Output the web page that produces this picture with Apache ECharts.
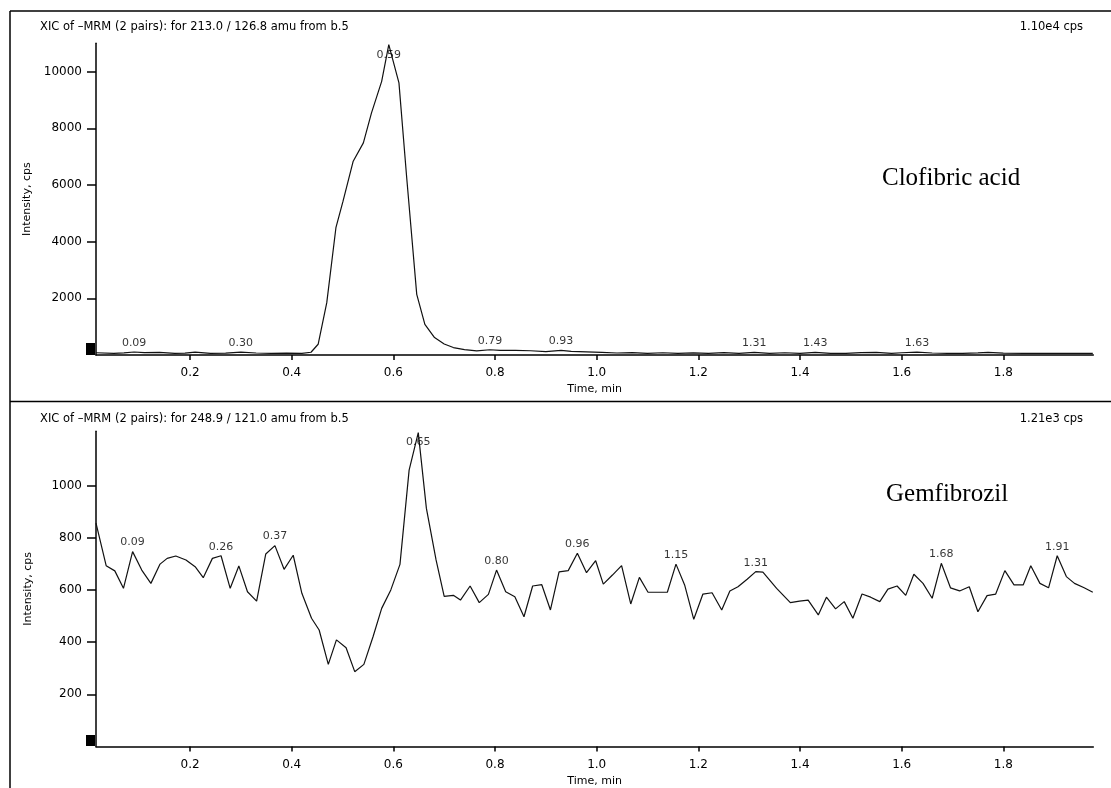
<!DOCTYPE html>
<html>
<head>
<meta charset="utf-8">
<script src="https://cdn.jsdelivr.net/npm/echarts@6/dist/echarts.min.js"></script>
<style>
  html, body { margin: 0; padding: 0; background: #fff; }
  #main { width: 1111px; height: 788px; }
</style>
</head>
<body>
<div id="main"></div>
<script>
// clofibric acid trace, [time min, intensity cps]
var topPoints = [
  [0.015, 80], [0.05, 60], [0.07, 75], [0.09, 105], [0.11, 85], [0.14, 95], [0.17, 60],
  [0.19, 65], [0.21, 100], [0.24, 60], [0.27, 65], [0.30, 100], [0.33, 70], [0.36, 60],
  [0.39, 65], [0.42, 60], [0.438, 97], [0.452, 379], [0.469, 1848], [0.487, 4492],
  [0.501, 5429], [0.521, 6839], [0.541, 7487], [0.557, 8545], [0.577, 9658], [0.591, 10950],
  [0.611, 9602], [0.626, 6310], [0.646, 2141], [0.662, 1084], [0.681, 615], [0.70, 390],
  [0.718, 263], [0.74, 190], [0.764, 143], [0.79, 185], [0.81, 160], [0.84, 165], [0.87, 150],
  [0.90, 120], [0.93, 160], [0.95, 130], [0.98, 110], [1.01, 90], [1.04, 70], [1.07, 85],
  [1.10, 60], [1.13, 80], [1.16, 55], [1.19, 75], [1.22, 60], [1.25, 85], [1.28, 60],
  [1.31, 90], [1.34, 60], [1.37, 80], [1.40, 55], [1.43, 95], [1.46, 60], [1.49, 55],
  [1.52, 85], [1.55, 90], [1.58, 60], [1.60, 80], [1.63, 100], [1.66, 70], [1.69, 55],
  [1.72, 60], [1.75, 75], [1.77, 90], [1.80, 65], [1.84, 55], [1.88, 60], [1.92, 55],
  [1.95, 60], [1.976, 55]
];
var topPeaks = [[0.09, '0.09'], [0.30, '0.30'], [0.591, '0.59'], [0.79, '0.79'],
  [0.93, '0.93'], [1.31, '1.31'], [1.43, '1.43'], [1.63, '1.63']];

// gemfibrozil trace
var bottomPoints = [
  [0.015, 857], [0.035, 694], [0.052, 674], [0.069, 607], [0.087, 748], [0.105, 677],
  [0.123, 626], [0.141, 700], [0.155, 722], [0.172, 731], [0.192, 716], [0.210, 690],
  [0.226, 648], [0.244, 722], [0.261, 732], [0.279, 607], [0.296, 693], [0.313, 594],
  [0.331, 558], [0.349, 739], [0.367, 771], [0.385, 680], [0.403, 734], [0.420, 588],
  [0.439, 492], [0.454, 447], [0.472, 315], [0.488, 409], [0.507, 379], [0.524, 287],
  [0.542, 315], [0.560, 421], [0.577, 530], [0.595, 601], [0.613, 699], [0.631, 1061],
  [0.649, 1205], [0.665, 914], [0.684, 716], [0.700, 576], [0.718, 580], [0.732, 562],
  [0.751, 616], [0.769, 552], [0.787, 584], [0.803, 677], [0.821, 594], [0.839, 575],
  [0.857, 498], [0.874, 616], [0.892, 621], [0.909, 524], [0.926, 670], [0.944, 675],
  [0.962, 742], [0.980, 667], [0.998, 713], [1.013, 623], [1.031, 658], [1.049, 694],
  [1.067, 547], [1.084, 649], [1.101, 592], [1.119, 592], [1.139, 592], [1.156, 700],
  [1.173, 620], [1.191, 488], [1.209, 585], [1.227, 590], [1.246, 524], [1.262, 597],
  [1.278, 613], [1.296, 642], [1.313, 671], [1.327, 669], [1.354, 607], [1.381, 552],
  [1.399, 558], [1.416, 562], [1.436, 505], [1.452, 573], [1.470, 528], [1.487, 556],
  [1.504, 492], [1.522, 585], [1.539, 573], [1.557, 556], [1.573, 604], [1.591, 616],
  [1.608, 580], [1.624, 661], [1.642, 626], [1.660, 569], [1.678, 703], [1.696, 609],
  [1.714, 597], [1.733, 613], [1.750, 517], [1.768, 579], [1.785, 585], [1.803, 675],
  [1.821, 620], [1.839, 620], [1.854, 694], [1.872, 626], [1.889, 609], [1.906, 732],
  [1.924, 652], [1.940, 626], [1.959, 609], [1.976, 592]
];
var bottomPeaks = [[0.087, '0.09'], [0.261, '0.26'], [0.367, '0.37'], [0.649, '0.65'],
  [0.803, '0.80'], [0.962, '0.96'], [1.156, '1.15'], [1.313, '1.31'], [1.678, '1.68'], [1.906, '1.91']];

var timeTicks = [0.2, 0.4, 0.6, 0.8, 1.0, 1.2, 1.4, 1.6, 1.8];
var topIntTicks = [2000, 4000, 6000, 8000, 10000];
var bottomIntTicks = [200, 400, 600, 800, 1000];
var topMax = 11000, bottomMax = 1210;

var sans = 'DejaVu Sans';
var ink = '#000';

function nearest(points, t) {
  var best = points[0];
  points.forEach(function (p) {
    if (Math.abs(p[0] - t) < Math.abs(best[0] - t)) best = p;
  });
  return best;
}

function peakData(points, peaks, max) {
  return peaks.map(function (pk) {
    var p = nearest(points, pk[0]);
    var nearTop = p[1] > max * 0.95;
    return {
      value: [p[0], p[1], pk[1]],
      label: nearTop ? { position: 'bottom', distance: 4 } : { position: 'top', distance: 3 }
    };
  });
}

function xAxisOf(gi) {
  return {
    type: 'value', gridIndex: gi, min: 0.015, max: 1.977,
    name: 'Time, min', nameLocation: 'middle', nameGap: 29,
    nameTextStyle: { color: ink, fontFamily: sans, fontSize: 11 },
    axisLine: { lineStyle: { color: ink, width: 1.5 } },
    axisTick: { length: 5, customValues: timeTicks, lineStyle: { color: ink, width: 1.5 } },
    axisLabel: {
      customValues: timeTicks, margin: 12, color: ink, fontFamily: sans, fontSize: 12,
      formatter: function (v) { return v.toFixed(1); }
    },
    splitLine: { show: false }
  };
}

function yAxisOf(gi, max, ticks) {
  return {
    type: 'value', gridIndex: gi, min: 0, max: max,
    name: 'Intensity, cps', nameLocation: 'middle', nameGap: 62,
    nameTextStyle: { color: ink, fontFamily: sans, fontSize: 11 },
    axisLine: { show: true, lineStyle: { color: ink, width: 1.5 } },
    axisTick: { show: true, length: 9, customValues: ticks, lineStyle: { color: ink, width: 1.5 } },
    axisLabel: {
      customValues: ticks, margin: 14, color: ink, fontFamily: sans, fontSize: 12,
      formatter: function (v) { return String(v); }
    },
    splitLine: { show: false }
  };
}

function traceSeries(i, points) {
  return {
    type: 'line', xAxisIndex: i, yAxisIndex: i, data: points,
    showSymbol: false, silent: true, z: 3,
    lineStyle: { color: '#111', width: 1.2 }
  };
}

function peakSeries(i, points, peaks, max) {
  return {
    type: 'scatter', xAxisIndex: i, yAxisIndex: i, symbolSize: 1, silent: true, z: 4,
    itemStyle: { color: 'rgba(0,0,0,0)' },
    data: peakData(points, peaks, max),
    label: {
      show: true, color: ink, fontFamily: sans, fontSize: 11,
      formatter: function (p) { return p.value[2]; }
    }
  };
}

function headerText(x, y, text, align) {
  return {
    type: 'text', x: x, y: y,
    style: { text: text, fill: ink, font: '11.5px "DejaVu Sans"', align: align, verticalAlign: 'middle' }
  };
}

var chart = echarts.init(document.getElementById('main'), null, { renderer: 'canvas' });
chart.setOption({
  animation: false,
  backgroundColor: '#fff',
  grid: [
    { left: 96, right: 17.7, top: 43.3, height: 311.7 },
    { left: 96, right: 17.7, top: 431.3, height: 315.1 }
  ],
  xAxis: [xAxisOf(0), xAxisOf(1)],
  yAxis: [yAxisOf(0, topMax, topIntTicks), yAxisOf(1, bottomMax, bottomIntTicks)],
  series: [
    traceSeries(0, topPoints),
    peakSeries(0, topPoints, topPeaks, topMax),
    traceSeries(1, bottomPoints),
    peakSeries(1, bottomPoints, bottomPeaks, bottomMax)
  ],
  graphic: [
    { type: 'line', shape: { x1: 10, y1: 11, x2: 1111, y2: 11 }, style: { stroke: ink, lineWidth: 1.5 } },
    { type: 'line', shape: { x1: 10, y1: 11, x2: 10, y2: 788 }, style: { stroke: ink, lineWidth: 1.5 } },
    { type: 'line', shape: { x1: 10, y1: 401.5, x2: 1111, y2: 401.5 }, style: { stroke: ink, lineWidth: 1.5 } },
    { type: 'rect', shape: { x: 86, y: 343, width: 9, height: 12 }, style: { fill: '#000' } },
    { type: 'rect', shape: { x: 86, y: 735, width: 9, height: 11 }, style: { fill: '#000' } },
    headerText(40, 27, 'XIC of \u2013MRM (2 pairs): for 213.0 / 126.8 amu from b.5', 'left'),
    headerText(1083, 27, '1.10e4 cps', 'right'),
    headerText(40, 419, 'XIC of \u2013MRM (2 pairs): for 248.9 / 121.0 amu from b.5', 'left'),
    headerText(1083, 419, '1.21e3 cps', 'right'),
    {
      type: 'text', x: 882, y: 178,
      style: { text: 'Clofibric acid', fill: '#000', font: '25px "Liberation Serif"', verticalAlign: 'middle' }
    },
    {
      type: 'text', x: 886, y: 494,
      style: { text: 'Gemfibrozil', fill: '#000', font: '25px "Liberation Serif"', verticalAlign: 'middle' }
    }
  ]
});
</script>
</body>
</html>
